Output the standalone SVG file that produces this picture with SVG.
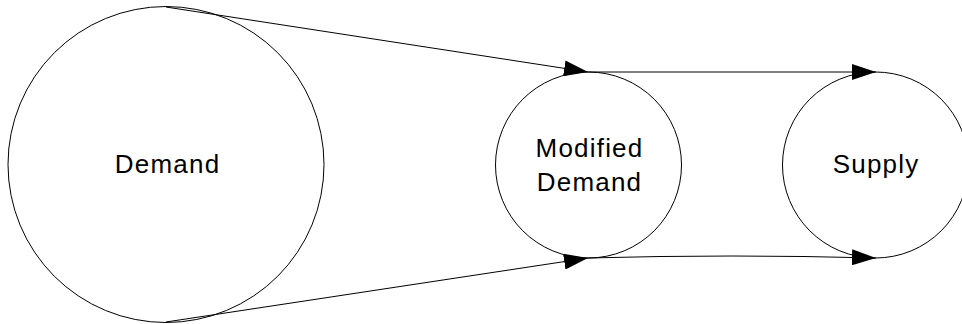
<svg xmlns="http://www.w3.org/2000/svg" width="962" height="324" viewBox="0 0 962 324">
<style>
.node{fill:#fff;stroke:#000;stroke-width:1}
.lbl{font-family:"Liberation Sans",Arial,sans-serif;font-size:26px;letter-spacing:1.2px;fill:#000;text-anchor:middle}
.edge{fill:none;stroke:#000;stroke-width:1;marker-end:url(#arr)}
</style>
<defs>
<marker id="arr" markerUnits="userSpaceOnUse" markerWidth="24" markerHeight="16" refX="24" refY="8" orient="auto" viewBox="0 0 24 16">
<path d="M0,0 L24,8 L0,16 Z" fill="#000"/>
</marker>
</defs>
<rect width="962" height="324" fill="#fff"/>
<g id="demand">
<circle class="node" cx="166" cy="164.5" r="158"/>
<text class="lbl" x="167.6" y="173">Demand</text>
</g>
<g id="modified-demand">
<circle class="node" cx="588.5" cy="165" r="93"/>
<text class="lbl" x="589.5" y="156.7">Modified</text>
<text class="lbl" x="589.5" y="190.7">Demand</text>
</g>
<g id="supply">
<circle class="node" cx="875.5" cy="165" r="93"/>
<text class="lbl" x="876.1" y="173">Supply</text>
</g>
<g id="connectors">
<path class="edge" d="M166,7 L588,72"/>
<path class="edge" d="M166,322 L588,258"/>
<path class="edge" d="M588,72 L876,72"/>
<path class="edge" d="M588,258 Q732,254 876,258"/>
</g>
</svg>
